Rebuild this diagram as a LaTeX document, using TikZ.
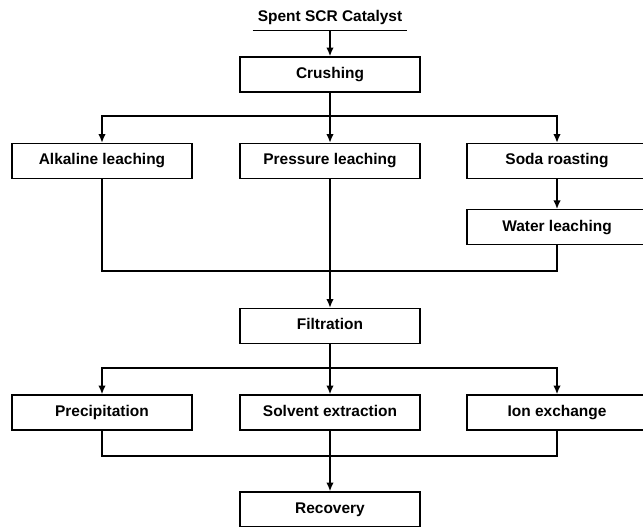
\documentclass[tikz,border=0pt]{standalone}
\usepackage{fontspec}
\setmainfont{Liberation Sans}
\usetikzlibrary{positioning,arrows.meta}

\begin{document}
\begin{tikzpicture}[x=0.025cm, y=-0.025cm,
  font=\fontsize{11}{13}\selectfont\bfseries,
  process/.style={rectangle, draw=black, line width=0.9pt, minimum width=4.5cm, minimum height=0.875cm, inner sep=0, text height=8pt, text depth=2.5pt},
  line/.style={line width=1.4pt},
  flow/.style={line width=1.4pt, -{Latex[length=0.22cm, width=0.19cm]}}]
\useasboundingbox (0,0) rectangle (643,526);

\node[inner xsep=0.12cm, inner ysep=0.12cm](catalyst) at (330,18){Spent SCR Catalyst};
\draw[line width=0.9pt] (catalyst.south west) -- (catalyst.south east);

\node[process](crushing) at (330,74.5){Crushing};

\node[process](alkaline) at (102,161){Alkaline leaching};
\node[process](pressure) at (330,161){Pressure leaching};
\node[process](soda) at (557,161){Soda roasting};
\node[process](water)[below=0.75cm of soda]{Water leaching};

\node[process](filtration) at (330,326){Filtration};

\node[process](precipitation) at (102,412.5){Precipitation};
\node[process](solvent) at (330,412.5){Solvent extraction};
\node[process](ionExchange) at (557,412.5){Ion exchange};

\node[process](recovery) at (330,509.5){Recovery};

\coordinate (leachSplit) at (330,116);
\coordinate (leachMerge) at (330,271);
\coordinate (refineSplit) at (330,368);
\coordinate (refineMerge) at (330,456);

% crushing and leaching
\draw[flow] (catalyst) -- (crushing);
\draw[line] (crushing) -- (leachSplit);
\draw[flow] (leachSplit) -| (alkaline);
\draw[flow] (leachSplit) -| (soda);
\draw[flow] (leachSplit) -- (pressure);
\draw[flow] (soda) -- (water);
\draw[line] (alkaline) |- (leachMerge) -| (water);
\draw[flow] (pressure) -- (filtration);

% separation and recovery
\draw[line] (filtration) -- (refineSplit);
\draw[flow] (refineSplit) -| (precipitation);
\draw[flow] (refineSplit) -| (ionExchange);
\draw[flow] (refineSplit) -- (solvent);
\draw[line] (precipitation) |- (refineMerge) -| (ionExchange);
\draw[flow] (solvent) -- (recovery);

\end{tikzpicture}
\end{document}
